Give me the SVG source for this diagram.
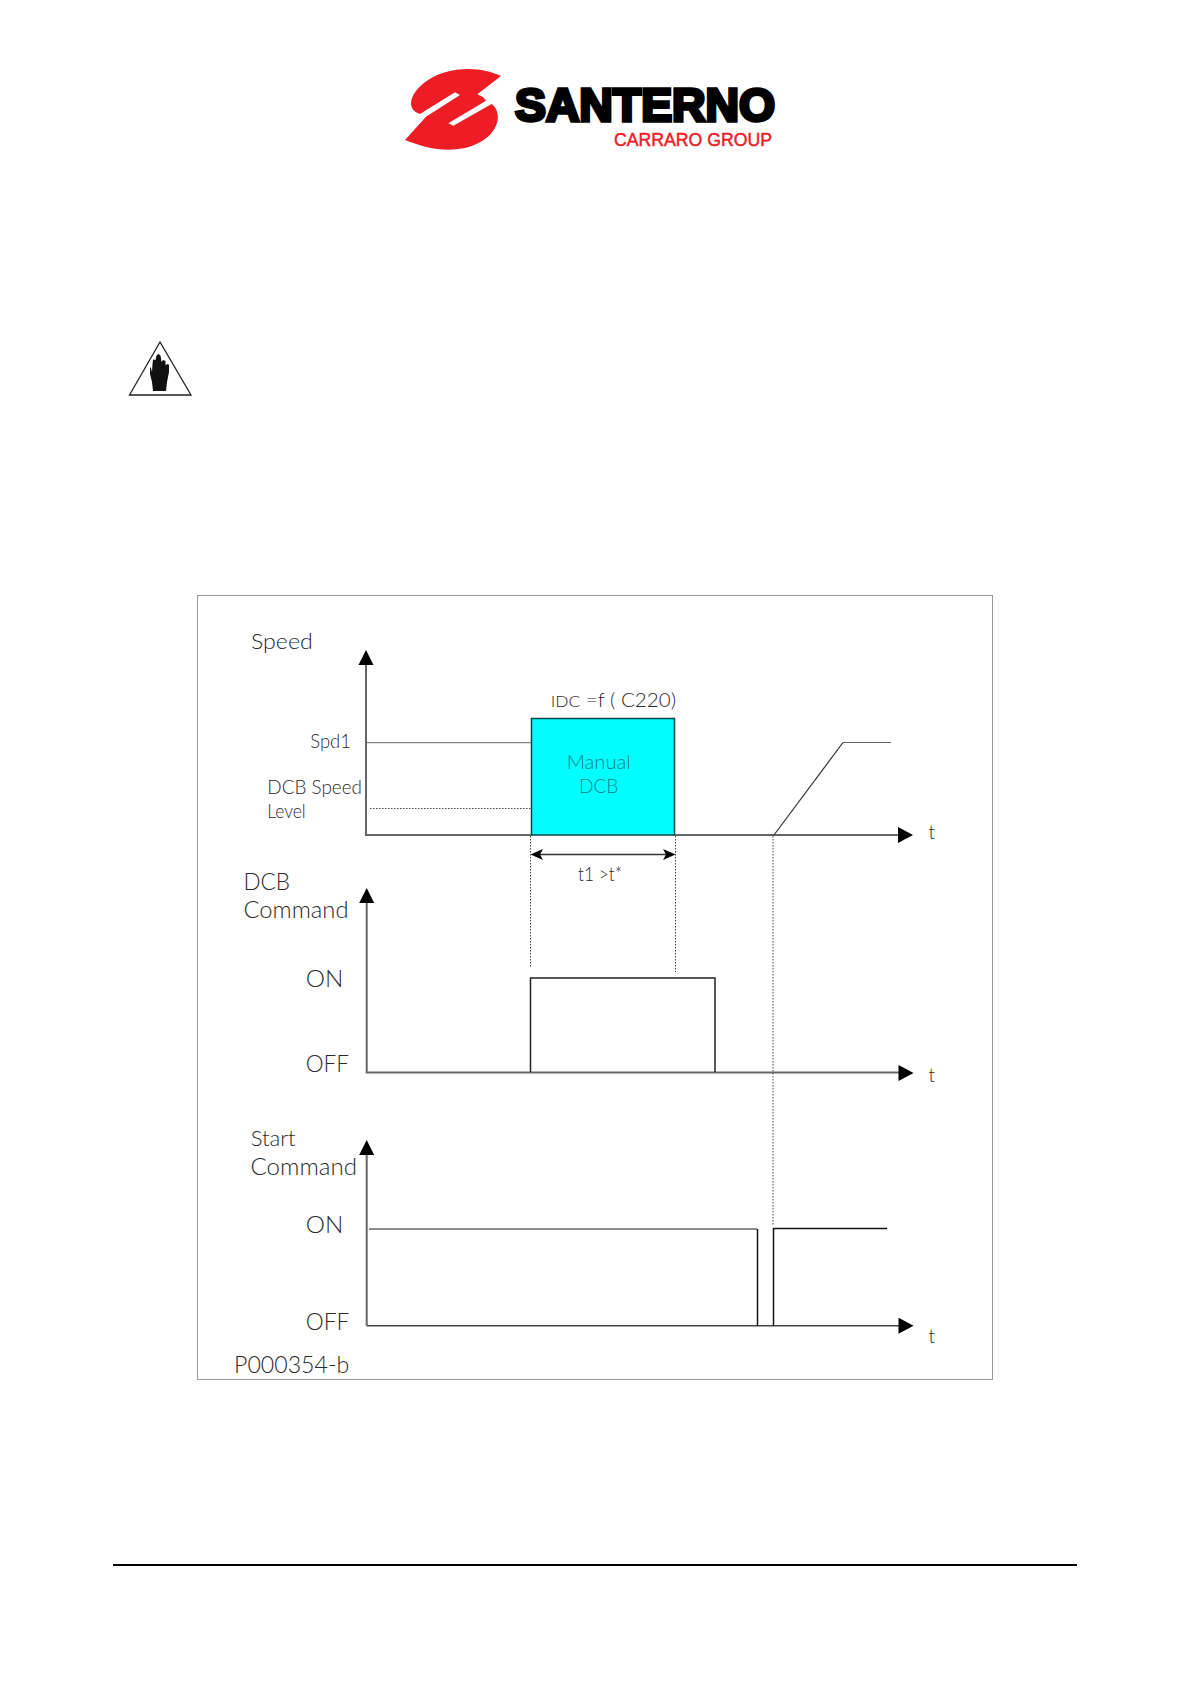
<svg xmlns="http://www.w3.org/2000/svg" width="1191" height="1684" viewBox="0 0 1191 1684">
<style>
text{font-family:"Lato","Open Sans","Liberation Sans",sans-serif;font-weight:300;fill:#2a2a2a}
.s19{font-size:19px}.s22{font-size:22px}.s24{font-size:24px}
.axis{stroke:#666;stroke-width:2;fill:none}
.sig{stroke:#333;stroke-width:1.5;fill:none}
.thin{stroke:#666;stroke-width:1;fill:none}
.dot{stroke:#444;stroke-width:1;stroke-dasharray:1.5 1.5;fill:none}
.hd{fill:#000}
</style>
<defs>
<polygon id="up" class="hd" points="0,-15 7.500,0 -7.500,0"/>
<polygon id="right" class="hd" points="15,0 0,-8 0,8"/>
</defs>
<rect width="1191" height="1684" fill="#fff"/>
<g id="logo">
<path fill="#ee1c25" transform="translate(400 60) scale(.3333)" d="M303 48C260 28 200 18 130 38C75 56 35 95 33 130C33 148 45 157 60 162L165 97L180 105L78 170L15 240C70 262 130 277 190 265C240 255 285 225 293 180C296 160 288 140 275 132L160 197L145 190L258 122L250 112L232 103Z"/>
<text x="515" y="121" textLength="260" lengthAdjust="spacingAndGlyphs" style="font-family:'Liberation Sans',Arial,sans-serif;font-weight:700;font-size:47px;fill:#000;stroke:#000;stroke-width:3.500">SANTERNO</text>
<text x="614" y="145.500" textLength="158" lengthAdjust="spacingAndGlyphs" style="font-family:'Liberation Sans',Arial,sans-serif;font-weight:400;font-size:19px;fill:#ee1c25;stroke:#ee1c25;stroke-width:.5">CARRARO GROUP</text>
</g>
<g id="warning">
<polygon points="160,342 129.500,395 191,395" fill="#fff" stroke="#222" stroke-width="1.300"/>
<path fill="#111" d="M153 391L166 391L167 382L169 372L169 365L168 364L165.500 365L165.500 361L163 360L161.500 362L160.500 355.500L158.500 354L156.500 355.500L155.500 360L153 359.500L152.500 364L152 372L151 368L150 367L150 374L152 382Z"/>
</g>
<g id="frame">
<rect x="197.500" y="595.500" width="795" height="784" fill="#fff" stroke="#999" stroke-width="1"/>
</g>
<g id="manual-dcb">
<rect x="531.500" y="718.500" width="143" height="116.500" fill="#00ffff" stroke="#044" stroke-width="1.500"/>
<text class="s19" x="566.700" y="769" textLength="64" lengthAdjust="spacingAndGlyphs" style="fill:#067f84">Manual</text>
<text class="s19" x="579" y="793.300" textLength="39.300" lengthAdjust="spacingAndGlyphs" style="fill:#067f84">DCB</text>
</g>
<g id="connectors">
<path class="dot" d="M530.500 836V967M675.500 836V972M773 836V1225M370 808.500H531"/>
<path class="axis" d="M366 665V835H531M675 835H899"/>
<use href="#up" x="366" y="665"/>
<use href="#right" x="898" y="835"/>
<path class="thin" d="M366 742.700H531M843 742.500H891"/>
<path class="sig" style="stroke-width:1.200" d="M774 835L843 742.500"/>
<path class="sig" d="M536 854.500H670"/>
<polygon class="hd" points="530.500,854.500 543,849 540,854.500 543,860"/>
<polygon class="hd" points="675.500,854.500 663,849 666,854.500 663,860"/>
<path class="axis" d="M366.700 902V1072.500H899"/>
<use href="#up" x="366.700" y="903"/>
<use href="#right" x="898.500" y="1073"/>
<path class="sig" style="stroke:#222" d="M530.500 1072V978H715V1072"/>
<path class="axis" d="M366.700 1155V1325.500"/>
<path class="axis" style="stroke-width:1.600;stroke:#444" d="M366.700 1325.700H899"/>
<use href="#up" x="366.700" y="1155"/>
<use href="#right" x="898.500" y="1325.700"/>
<path class="axis" style="stroke-width:1.500" d="M369 1229H757"/>
<path class="sig" style="stroke:#111" d="M757.500 1229V1326M773.500 1326V1228.500H887"/>
</g>
<g id="labels">
<text class="s22" x="251" y="649" textLength="61.700" lengthAdjust="spacingAndGlyphs">Speed</text>
<text class="s19" x="310.300" y="747.500" textLength="40.700" lengthAdjust="spacingAndGlyphs">Spd1</text>
<text class="s19" x="267.300" y="793.500" textLength="94.700" lengthAdjust="spacingAndGlyphs">DCB Speed</text>
<text class="s19" x="267.300" y="818" textLength="38.400" lengthAdjust="spacingAndGlyphs">Level</text>
<text class="s19" x="550.700" y="706.700" textLength="125.300" lengthAdjust="spacingAndGlyphs"><tspan style="font-size:16px">IDC</tspan> =f ( C220)</text>
<text class="s19" x="578" y="880.700" textLength="44" lengthAdjust="spacingAndGlyphs">t1 &gt;t*</text>
<text class="s19" x="928.500" y="839">t</text>
<text class="s24" x="243.500" y="890" textLength="46.500" lengthAdjust="spacingAndGlyphs">DCB</text>
<text class="s24" x="243.500" y="918.300" textLength="105" lengthAdjust="spacingAndGlyphs">Command</text>
<text class="s24" x="305.700" y="987" textLength="37.600" lengthAdjust="spacingAndGlyphs">ON</text>
<text class="s24" x="305.700" y="1071.700" textLength="43.300" lengthAdjust="spacingAndGlyphs">OFF</text>
<text class="s19" x="928.500" y="1082.300">t</text>
<text class="s22" x="250.700" y="1146" textLength="45" lengthAdjust="spacingAndGlyphs">Start</text>
<text class="s24" x="250.500" y="1175.300" textLength="106.500" lengthAdjust="spacingAndGlyphs">Command</text>
<text class="s24" x="305.700" y="1232.700" textLength="37.600" lengthAdjust="spacingAndGlyphs">ON</text>
<text class="s24" x="305.700" y="1330" textLength="43.600" lengthAdjust="spacingAndGlyphs">OFF</text>
<text class="s19" x="928.500" y="1343.300">t</text>
<text class="s24" x="234" y="1373.300" textLength="115.300" lengthAdjust="spacingAndGlyphs">P000354-b</text>
</g>
<g id="footer-rule">
<rect x="113" y="1564" width="964" height="2" fill="#000"/>
</g>
</svg>
